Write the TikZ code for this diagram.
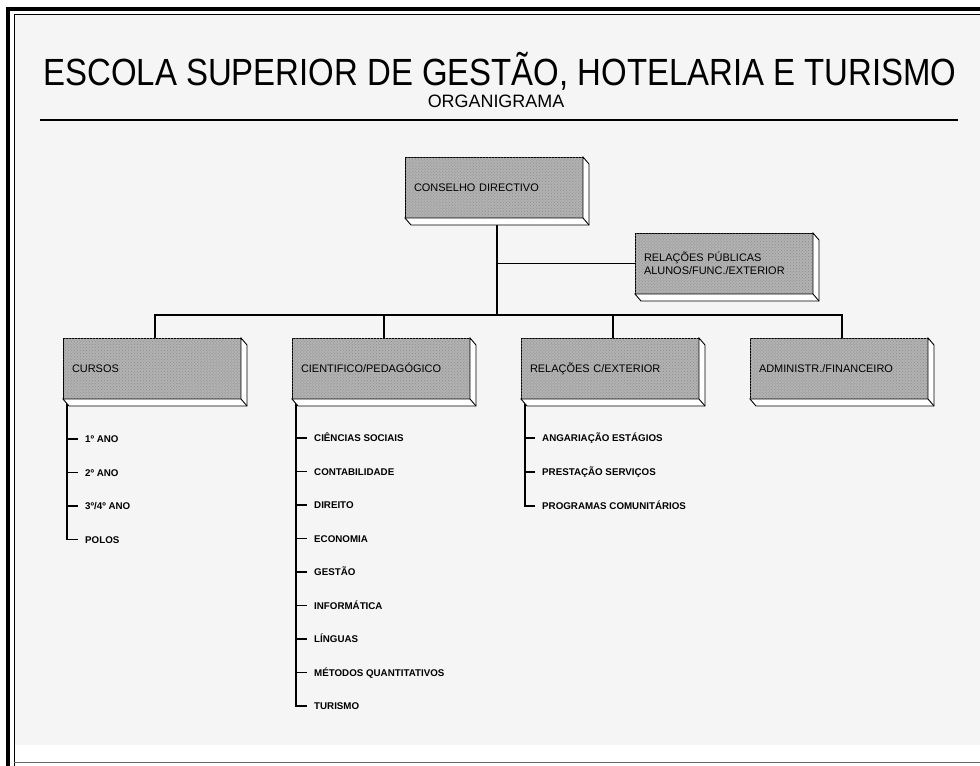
\documentclass[tikz,border=0pt]{standalone}
\usepackage{fontspec}
\setmainfont{Liberation Sans}
\usetikzlibrary{positioning,calc,patterns}

% depth faces of a box (right and bottom side)
\newcommand{\boxdepth}[1]{%
  \draw[fill=white, line width=0.9bp] (#1.south west) -- ++(6,7) -| ($(#1.north east)+(6,7)$)
    -- (#1.north east) -- (#1.south east) -- cycle;
  \draw[line width=0.9bp] (#1.south east) -- ++(6,7);}

\begin{document}
\begin{tikzpicture}[x=1bp, y=-1bp, node distance=51bp,
  orgbox/.style={draw, line width=0.9bp, fill=black!30, postaction={pattern=crosshatch dots, pattern color=black!45},
    minimum width=178bp, minimum height=61bp, inner xsep=9bp, text width=160bp, align=left,
    outer sep=0pt, font=\fontsize{11}{13}\selectfont, execute at begin node=\vphantom{ÓÇ}},
  item/.style={anchor=west, inner sep=0pt, text height=7.2bp, text depth=0pt, font=\fontsize{9.8}{10}\selectfont\bfseries},
  conn/.style={line width=1.1bp}]
\useasboundingbox (0,0) rectangle (980,766);
% paper and frame
\fill[black!4] (14,15) rectangle (980,745);
\draw[line width=3.5bp] (8,766) -- (8,9) -- (980,9);
\draw[line width=1bp] (14,766) -- (14,15) -- (980,15);
\draw[black!60, line width=1bp] (14,762) -- (980,762);
% heading
\node (title) at (500,71) {\fontsize{38}{40}\selectfont\scalebox{0.87}[1]{ESCOLA SUPERIOR DE GESTÃO, HOTELARIA E TURISMO}};
\node (sub) at (496,101) {\fontsize{18}{18}\selectfont ORGANIGRAMA};
\draw[line width=1.2bp] (40,120) -- (958,120);

% boxes
\node[orgbox, anchor=north west] (cd) at (405,157) {CONSELHO DIRECTIVO};
\node[orgbox, anchor=north west] (rp) at (635,233) {RELAÇÕES PÚBLICAS\\ALUNOS/FUNC./EXTERIOR};
\node[orgbox, anchor=north west] (cursos) at (63,338) {CURSOS};
\node[orgbox, right=of cursos] (cient) {CIENTIFICO/PEDAGÓGICO};
\node[orgbox, right=of cient] (rce) {RELAÇÕES C/EXTERIOR};
\node[orgbox, right=of rce] (adm) {ADMINISTR./FINANCEIRO};

% connectors
\coordinate (bus) at (0,315);
\draw[conn] ([xshift=3bp]cd.south) -- ([xshift=3bp]cd.south |- bus);
\draw[conn] ([xshift=3bp]cd.south |- rp.west) -- (rp.west);
\draw[conn] ([xshift=3bp]cursos.north) -- ([xshift=3bp]cursos.north |- bus) -- ([xshift=3bp]adm.north |- bus) -- ([xshift=3bp]adm.north);
\draw[conn] ([xshift=3bp]cient.north) -- ([xshift=3bp]cient.north |- bus);
\draw[conn] ([xshift=3bp]rce.north) -- ([xshift=3bp]rce.north |- bus);

% cursos
\node[item] (c1) at ($(cursos.south west)+(22,40)$) {1º ANO};
\node[below=33.5bp of c1.west, item] (c2) {2º ANO};
\node[below=33.5bp of c2.west, item] (c3) {3º/4º ANO};
\node[below=33.5bp of c3.west, item] (c4) {POLOS};
\coordinate (ctrunk) at ([xshift=4bp]cursos.south west);
\draw[conn] (ctrunk) |- ([xshift=-7bp]c4.west);
\draw[conn] (ctrunk |- c1.west) -- ([xshift=-7bp]c1.west);
\draw[conn] (ctrunk |- c2.west) -- ([xshift=-7bp]c2.west);
\draw[conn] (ctrunk |- c3.west) -- ([xshift=-7bp]c3.west);

% cientifico/pedagogico
\node[item] (p1) at ($(cient.south west)+(22,39)$) {CIÊNCIAS SOCIAIS};
\node[below=33.5bp of p1.west, item] (p2) {CONTABILIDADE};
\node[below=33.5bp of p2.west, item] (p3) {DIREITO};
\node[below=33.5bp of p3.west, item] (p4) {ECONOMIA};
\node[below=33.5bp of p4.west, item] (p5) {GESTÃO};
\node[below=33.5bp of p5.west, item] (p6) {INFORMÁTICA};
\node[below=33.5bp of p6.west, item] (p7) {LÍNGUAS};
\node[below=33.5bp of p7.west, item] (p8) {MÉTODOS QUANTITATIVOS};
\node[below=33.5bp of p8.west, item] (p9) {TURISMO};
\coordinate (ptrunk) at ([xshift=4bp]cient.south west);
\draw[conn] (ptrunk) |- ([xshift=-7bp]p9.west);
\draw[conn] (ptrunk |- p1.west) -- ([xshift=-7bp]p1.west);
\draw[conn] (ptrunk |- p2.west) -- ([xshift=-7bp]p2.west);
\draw[conn] (ptrunk |- p3.west) -- ([xshift=-7bp]p3.west);
\draw[conn] (ptrunk |- p4.west) -- ([xshift=-7bp]p4.west);
\draw[conn] (ptrunk |- p5.west) -- ([xshift=-7bp]p5.west);
\draw[conn] (ptrunk |- p6.west) -- ([xshift=-7bp]p6.west);
\draw[conn] (ptrunk |- p7.west) -- ([xshift=-7bp]p7.west);
\draw[conn] (ptrunk |- p8.west) -- ([xshift=-7bp]p8.west);

% relacoes c/exterior
\node[item] (r1) at ($(rce.south west)+(21,39)$) {ANGARIAÇÃO ESTÁGIOS};
\node[below=34bp of r1.west, item] (r2) {PRESTAÇÃO SERVIÇOS};
\node[below=34bp of r2.west, item] (r3) {PROGRAMAS COMUNITÁRIOS};
\coordinate (rtrunk) at ([xshift=4bp]rce.south west);
\draw[conn] (rtrunk) |- ([xshift=-7bp]r3.west);
\draw[conn] (rtrunk |- r1.west) -- ([xshift=-7bp]r1.west);
\draw[conn] (rtrunk |- r2.west) -- ([xshift=-7bp]r2.west);

% box depth
\boxdepth{cd}
\boxdepth{rp}
\boxdepth{cursos}
\boxdepth{cient}
\boxdepth{rce}
\boxdepth{adm}
\end{tikzpicture}
\end{document}
